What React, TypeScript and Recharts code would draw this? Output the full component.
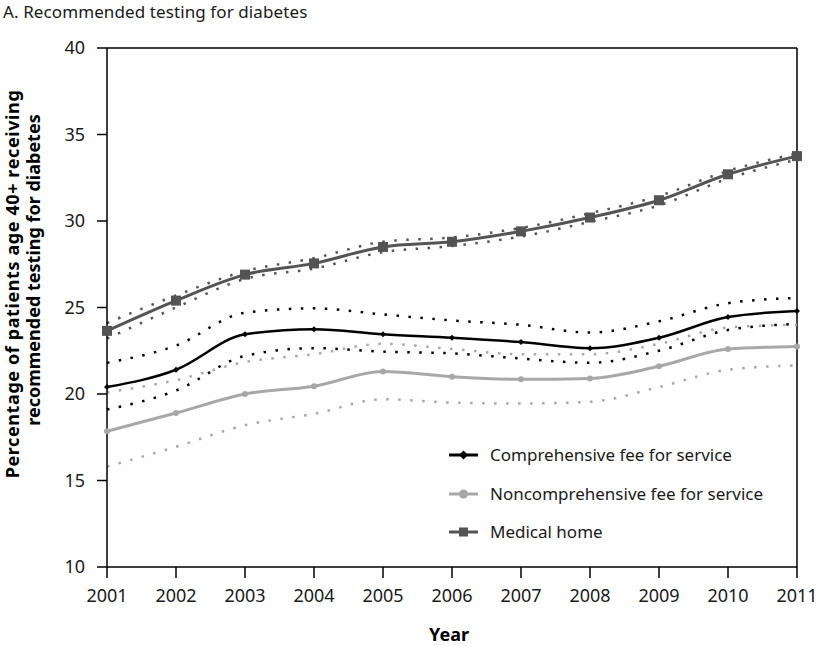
import React from "react";
import {
  LineChart,
  Line,
  XAxis,
  YAxis,
  ReferenceLine,
  Legend,
  Customized,
} from "recharts";

const years = [2001, 2002, 2003, 2004, 2005, 2006, 2007, 2008, 2009, 2010, 2011];
const yTicks = [10, 15, 20, 25, 30, 35, 40];

const comprehensive = [20.4, 21.4, 23.45, 23.75, 23.45, 23.25, 23.0, 22.65, 23.25, 24.45, 24.8];
const compUpper = [21.8, 22.8, 24.7, 24.95, 24.6, 24.25, 24.0, 23.55, 24.2, 25.25, 25.55];
const compLower = [19.1, 20.2, 22.2, 22.65, 22.45, 22.35, 22.05, 21.8, 22.5, 23.7, 24.05];

const noncomp = [17.85, 18.9, 20.0, 20.45, 21.3, 21.0, 20.85, 20.9, 21.6, 22.6, 22.75];
const noncompUpper = [20.1, 20.8, 21.85, 22.3, 22.9, 22.6, 22.3, 22.3, 22.9, 23.85, 24.0];
const noncompLower = [15.8, 16.95, 18.2, 18.85, 19.7, 19.5, 19.45, 19.55, 20.4, 21.4, 21.65];

const medical = [23.65, 25.4, 26.9, 27.55, 28.5, 28.8, 29.4, 30.2, 31.2, 32.7, 33.75];
const medicalUpper = [24.1, 25.7, 27.1, 27.85, 28.8, 29.05, 29.6, 30.45, 31.45, 32.9, 33.9];
const medicalLower = [23.2, 25.0, 26.65, 27.25, 28.2, 28.55, 29.1, 29.95, 30.9, 32.45, 33.55];

const seriesNames = [
  "Comprehensive fee for service",
  "Noncomprehensive fee for service",
  "Medical home",
];

const data = years.map((year, i) => ({
  year,
  comp: comprehensive[i],
  compU: compUpper[i],
  compL: compLower[i],
  non: noncomp[i],
  nonU: noncompUpper[i],
  nonL: noncompLower[i],
  med: medical[i],
  medU: medicalUpper[i],
  medL: medicalLower[i],
}));

const FONT = "'Noto Sans', 'Open Sans', sans-serif";
const C_COMP = "#000000";
const C_NON = "#a8a8a8";
const C_MED = "#545454";

const Diamond = (props: any) => {
  const { cx, cy, fill, r = 5 } = props;
  if (cx == null || cy == null) return null;
  return (
    <path
      d={`M${cx},${cy - r} L${cx + r},${cy} L${cx},${cy + r} L${cx - r},${cy} Z`}
      fill={fill}
    />
  );
};
const CircleDot = (props: any) => {
  const { cx, cy, fill, r = 5.5 } = props;
  if (cx == null || cy == null) return null;
  return <circle cx={cx} cy={cy} r={r} fill={fill} />;
};
const SquareDot = (props: any) => {
  const { cx, cy, fill, s = 10 } = props;
  if (cx == null || cy == null) return null;
  return <rect x={cx - s / 2} y={cy - s / 2} width={s} height={s} fill={fill} />;
};

const legendItems = [
  { name: seriesNames[0], color: C_COMP, shape: "diamond" },
  { name: seriesNames[1], color: C_NON, shape: "circle" },
  { name: seriesNames[2], color: C_MED, shape: "square" },
];

const renderLegend = () => (
  <div style={{ fontFamily: FONT, fontSize: 17, color: "#1a1a1a", whiteSpace: "nowrap" }}>
    {legendItems.map((it) => (
      <div
        key={it.name}
        style={{ display: "flex", alignItems: "center", height: 38.5 }}
      >
        <svg width={41} height={20} style={{ display: "block", flex: "none" }}>
          <line x1={0} y1={10} x2={29} y2={10} stroke={it.color} strokeWidth={3} />
          {it.shape === "diamond" && <Diamond cx={14.5} cy={10} fill={it.color} r={4.5} />}
          {it.shape === "circle" && <CircleDot cx={14.5} cy={10} fill={it.color} r={4.5} />}
          {it.shape === "square" && <SquareDot cx={14.5} cy={10} fill={it.color} s={9} />}
        </svg>
        <span style={{ lineHeight: "20px" }}>{it.name}</span>
      </div>
    ))}
  </div>
);

const Texts = () => (
  <g fontFamily={FONT}>
    <text x={3} y={18} fontSize={17} letterSpacing={0.1} fill="#1a1a1a">
      A. Recommended testing for diabetes
    </text>
    <text
      x={449}
      y={641}
      fontSize={18}
      fontWeight="bold"
      textAnchor="middle"
      fill="#000"
    >
      Year
    </text>
    <g transform="rotate(-90, 0, 0)">
      <text
        x={-284}
        y={19}
        fontSize={18}
        fontWeight="bold"
        letterSpacing={0.6}
        textAnchor="middle"
        fill="#000"
      >
        Percentage of patients age 40+ receiving
      </text>
      <text x={-270} y={40} fontSize={18} fontWeight="bold" textAnchor="middle" fill="#000">
        recommended testing for diabetes
      </text>
    </g>
  </g>
);

const dotted = (key: string, color: string) => (
  <Line
    key={key}
    dataKey={key}
    type="monotone"
    stroke={color}
    strokeWidth={2.5}
    strokeDasharray="2.5 9.5"
    dot={false}
    activeDot={false}
    isAnimationActive={false}
    legendType="none"
  />
);

export default function App() {
  return (
    <div style={{ position: "absolute", left: 0, top: 0, width: 822, height: 646, background: "#fff" }}>
      <LineChart
        width={822}
        height={646}
        data={data}
        margin={{ top: 48, right: 25, bottom: 49, left: 47 }}
      >
        <XAxis
          dataKey="year"
          type="number"
          domain={[2001, 2011]}
          ticks={years}
          height={30}
          tickSize={11}
          tickMargin={11}
          stroke="#000"
          tick={{ fill: "#1a1a1a", fontSize: 18, fontFamily: FONT }}
          axisLine={{ stroke: "#000", strokeWidth: 1.5 }}
          tickLine={{ stroke: "#000", strokeWidth: 1.5 }}
        />
        <YAxis
          type="number"
          domain={[10, 40]}
          ticks={yTicks}
          width={60}
          tickSize={10}
          tickMargin={12}
          tick={{ fill: "#1a1a1a", fontSize: 18, fontFamily: FONT }}
          axisLine={{ stroke: "#000", strokeWidth: 1.5 }}
          tickLine={{ stroke: "#000", strokeWidth: 1.5 }}
        />
        <ReferenceLine y={40} stroke="#000" strokeWidth={1.5} />
        <ReferenceLine x={2011} stroke="#000" strokeWidth={1.5} />
        {dotted("nonU", C_NON)}
        {dotted("nonL", C_NON)}
        {dotted("compU", C_COMP)}
        {dotted("compL", C_COMP)}
        {dotted("medU", C_MED)}
        {dotted("medL", C_MED)}
        <Line
          dataKey="non"
          name={seriesNames[1]}
          type="monotone"
          stroke={C_NON}
          strokeWidth={3}
          dot={<CircleDot fill={C_NON} />}
          activeDot={false}
          isAnimationActive={false}
        />
        <Line
          dataKey="comp"
          name={seriesNames[0]}
          type="monotone"
          stroke={C_COMP}
          strokeWidth={2.5}
          dot={<Diamond fill={C_COMP} />}
          activeDot={false}
          isAnimationActive={false}
        />
        <Line
          dataKey="med"
          name={seriesNames[2]}
          type="monotone"
          stroke={C_MED}
          strokeWidth={3}
          dot={<SquareDot fill={C_MED} />}
          activeDot={false}
          isAnimationActive={false}
        />
        <Legend
          layout="vertical"
          align="center"
          verticalAlign="middle"
          content={renderLegend}
          wrapperStyle={{ position: "absolute", left: 449, top: 436, width: 360 }}
        />
        <Customized component={Texts} />
      </LineChart>
    </div>
  );
}
